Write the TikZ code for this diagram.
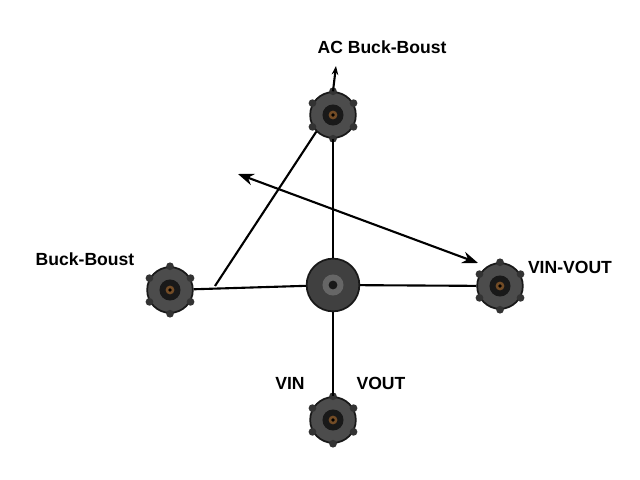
\documentclass[tikz,border=0pt]{standalone}
\usepackage{fontspec}
\setmainfont{Liberation Sans}
\usetikzlibrary{arrows.meta}
\begin{document}
\begin{tikzpicture}
    [
        x=0.02cm, y=-0.02cm,
        jack/.style={circle, draw=black!90, fill=black!70, line width=1pt, minimum size=26pt, inner sep=0pt,
            path picture={
                \fill[black!90] (path picture bounding box.center) circle (6pt);
                \fill[brown!60!black] (path picture bounding box.center) circle (2.5pt);
                \fill[black] (path picture bounding box.center) circle (1pt);
            }},
        hub/.style={circle, draw=black!90, fill=black!75, line width=1pt, minimum size=30pt, inner sep=0pt,
            path picture={
                \fill[black!60] (path picture bounding box.center) circle (6pt);
                \fill[black!90] (path picture bounding box.center) circle (2.5pt);
            }},
        wire/.style={line width=1.2pt, black},
        lbl/.style={font=\bfseries},
    ]
    \useasboundingbox (0,0) rectangle (640,480);

    % connectors
    \node (top)    at (333,115) [jack] {};
    \node (hub)    at (333,285) [hub]  {};
    \node (left)   at (170,290) [jack] {};
    \node (right)  at (500,286) [jack] {};
    \node (bottom) at (333,420) [jack] {};

    % lugs
    \foreach \n in {top,left,right,bottom}
        \foreach \a in {30,90,...,330}
            \fill[black!80] (\n.\a) circle (2.2pt);

    % free ends
    \coordinate (tip)   at (336,66);
    \coordinate (lcorn) at (215,286);
    \coordinate (arrA)  at (238,174);
    \coordinate (arrB)  at (478,263);

    % wiring
    \draw [wire, {Stealth[length=5pt]}-] (tip) -- (top.north);
    \draw [wire] (top) -- (hub);
    \draw [wire] (hub) -- (bottom);
    \draw [wire] (left) -- (hub);
    \draw [wire] (hub) -- (right);
    \draw [wire] (top.south west) -- (lcorn);
    \draw [wire, {Stealth[length=9pt]}-{Stealth[length=9pt]}] (arrA) -- (arrB);

    % labels
    \node (tAC)   at (382,47)  [lbl] {AC Buck-Boust};
    \node (tBB)   at (85,259)  [lbl] {Buck-Boust};
    \node (tVV)   at (570,267) [lbl] {VIN-VOUT};
    \node (tVIN)  at (290,383) [lbl] {VIN};
    \node (tVOUT) at (381,383) [lbl] {VOUT};
\end{tikzpicture}
\end{document}
